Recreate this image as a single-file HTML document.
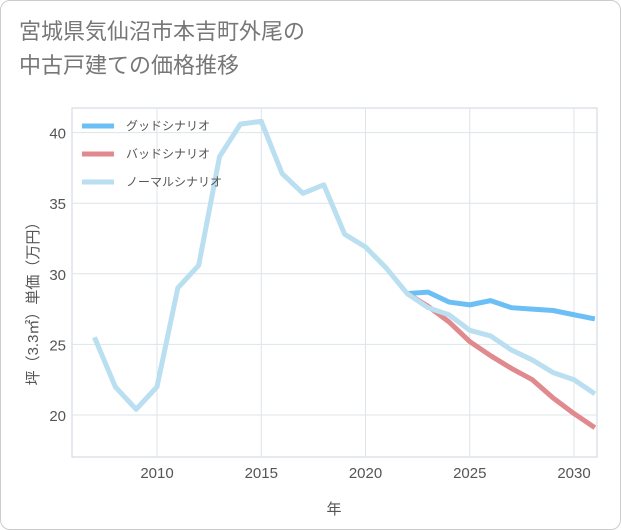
<!DOCTYPE html>
<html><head><meta charset="utf-8"><style>
body{margin:0;background:#fff;font-family:"Liberation Sans","Noto Sans CJK JP",sans-serif;}
.wrap{position:relative;width:619px;height:528px;border:1px solid #ccc;border-radius:10px;overflow:hidden;}
.title{position:absolute;left:18px;top:14px;font-size:22px;line-height:34px;color:#777;}
</style></head><body>
<div class="wrap">
<div class="title">宮城県気仙沼市本吉町外尾の<br>中古戸建ての価格推移</div>
<svg id="chart" width="621" height="530" style="position:absolute;left:-1px;top:-1px"></svg>
</div>
<script>
const years=[2007,2008,2009,2010,2011,2012,2013,2014,2015,2016,2017,2018,2019,2020,2021,2022,2023,2024,2025,2026,2027,2028,2029,2030,2031];
const normalVals=[25.5,22,20.4,22,29,30.6,38.3,40.6,40.8,37.1,35.7,36.3,32.8,31.9,30.4,28.6,27.6,27.1,26.0,25.6,24.6,23.9,23.0,22.5,21.5];
const futureYears=[2022,2023,2024,2025,2026,2027,2028,2029,2030,2031];
const goodVals=[28.6,28.7,28.0,27.8,28.1,27.6,27.5,27.4,27.1,26.8];
const badVals=[28.6,27.7,26.6,25.2,24.2,23.3,22.5,21.2,20.1,19.1];
const xTicks=[2010,2015,2020,2025,2030];
const yTicks=[20,25,30,35,40];
const seriesNames=["グッドシナリオ","バッドシナリオ","ノーマルシナリオ"];
const L=72,R=597,T=108,B=457;
const x=v=>157+(v-2010)*20.85;
const y=v=>415-(v-20)*14.12;
const svg=document.getElementById('chart');
const NS='http://www.w3.org/2000/svg';
function mk(t,a){const e=document.createElementNS(NS,t);for(const k in a)e.setAttribute(k,a[k]);svg.appendChild(e);return e;}
let r=mk('rect',{x:L,y:T,width:R-L,height:B-T,fill:'none',stroke:'#ccd6dd'});


xTicks.forEach(t=>{let g=mk('line',{x1:x(t),x2:x(t),y1:T,y2:B,stroke:'#dde4ea'});


let tx=mk('text',{x:x(t),y:478,'text-anchor':'middle','font-size':15,fill:'#555'});tx.textContent=t;

});
yTicks.forEach(t=>{let g=mk('line',{x1:L,x2:R,y1:y(t),y2:y(t),stroke:'#dde4ea'});


let tx=mk('text',{x:66,y:y(t)+6,'text-anchor':'end','font-size':15,fill:'#555'});tx.textContent=t;

});
let xt=mk('text',{x:334,y:514,'text-anchor':'middle','font-size':15,fill:'#555'});xt.textContent='年';


let yt=mk('text',{x:0,y:0,'text-anchor':'middle','font-size':15,fill:'#555',transform:'translate(38,300) rotate(-90)'});yt.textContent='坪（3.3㎡）単価（万円）';


function line(xs,vs,color,name){let d=xs.map((v,i)=>(i?'L':'M')+x(v)+','+y(vs[i])).join(' ');
let p=mk('path',{d:d,fill:'none',stroke:color,'stroke-width':5,'stroke-linejoin':'round'});

}
line(futureYears,goodVals,'#6cbff5','good-scenario-line');
line(futureYears,badVals,'#e08a90','bad-scenario-line');
line(years,normalVals,'#b9dff0','normal-scenario-line');
const colors=['#6cbff5','#e08a90','#b9dff0'];
seriesNames.forEach((n,i)=>{let yy=126+i*28;
let l=mk('line',{x1:82,x2:114,y1:yy,y2:yy,stroke:colors[i],'stroke-width':5});


let t=mk('text',{x:126,y:yy+4,'font-size':12,fill:'#555'});t.textContent=n;

});
</script>
</body></html>
